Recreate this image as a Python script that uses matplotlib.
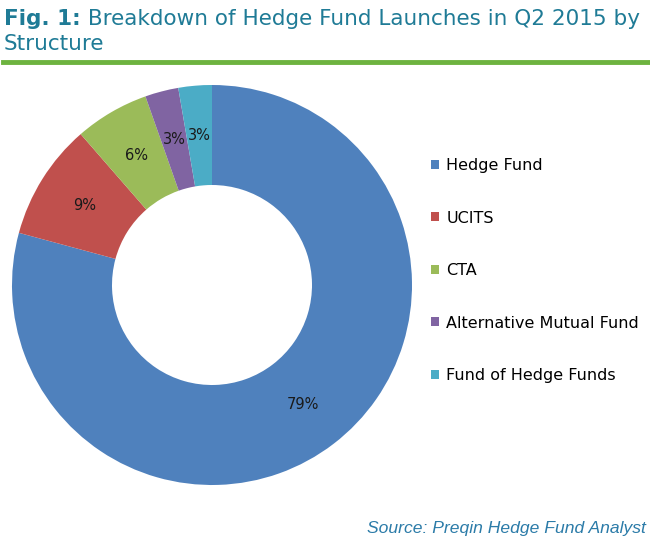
import matplotlib.pyplot as plt
from matplotlib.lines import Line2D
from matplotlib.patches import Patch

# данные
labels = ["Hedge Fund", "UCITS", "CTA", "Alternative Mutual Fund", "Fund of Hedge Funds"]
shares = [79.2, 9.4, 6.0, 2.7, 2.7]
colors = ["#4F81BD", "#C0504D", "#9BBB59", "#8064A2", "#4BACC6"]

title_bold = "Fig. 1:"
title_rest = " Breakdown of Hedge Fund Launches in Q2 2015 by"
title_line2 = "Structure"
source = "Source: Preqin Hedge Fund Analyst"

W, H = 650, 542
fig = plt.figure(figsize=(W / 100, H / 100), dpi=100)
fig.patch.set_facecolor("white")

teal = "#1F7B96"
tsize = 15.5

# заголовок
t1 = fig.text(4 / W, 1 - 25 / H, title_bold, fontsize=tsize, fontweight="bold",
              color=teal, family="DejaVu Sans", va="baseline")
fig.canvas.draw()
bb = t1.get_window_extent()
fig.text(bb.x1 / W, 1 - 25 / H, title_rest, fontsize=tsize, color=teal,
         family="DejaVu Sans", va="baseline")
fig.text(4 / W, 1 - 50 / H, title_line2, fontsize=tsize, color=teal,
         family="DejaVu Sans", va="baseline")

# зелёная линия
fig.add_artist(Line2D([3 / W, 648 / W], [1 - 61.5 / H, 1 - 61.5 / H],
                      color="#6DB33F", linewidth=3.5, transform=fig.transFigure))

# кольцевая диаграмма
ax = fig.add_axes([12 / W, (H - 485) / H, 400 / W, 400 / H])
wedges, texts, autotexts = ax.pie(
    shares, colors=colors, startangle=90, counterclock=False, radius=1,
    wedgeprops=dict(width=0.5, edgecolor="none"),
    autopct="%.0f%%", pctdistance=0.75,
    textprops=dict(fontsize=10.5, color="#1a1a1a", family="DejaVu Sans"))
ax.set_xlim(-1, 1)
ax.set_ylim(-1, 1)
ax.set_aspect("equal")
ax.axis("off")

handles = [Patch(facecolor=c, edgecolor="none") for c in colors]
fig.legend(handles, labels, loc="upper left", bbox_to_anchor=(431 / W, 1 - 158 / H),
           frameon=False, labelspacing=2.35, handlelength=0.5,
           handleheight=0.5, handletextpad=0.45, borderaxespad=0, borderpad=0,
           prop=dict(family="DejaVu Sans", size=11.5))

fig.text(646 / W, 1 - 529 / H, source, fontsize=12.6, style="italic",
         color="#2B7BA8", family="Liberation Sans", ha="right", va="center")

fig.savefig("out.png", dpi=100)
